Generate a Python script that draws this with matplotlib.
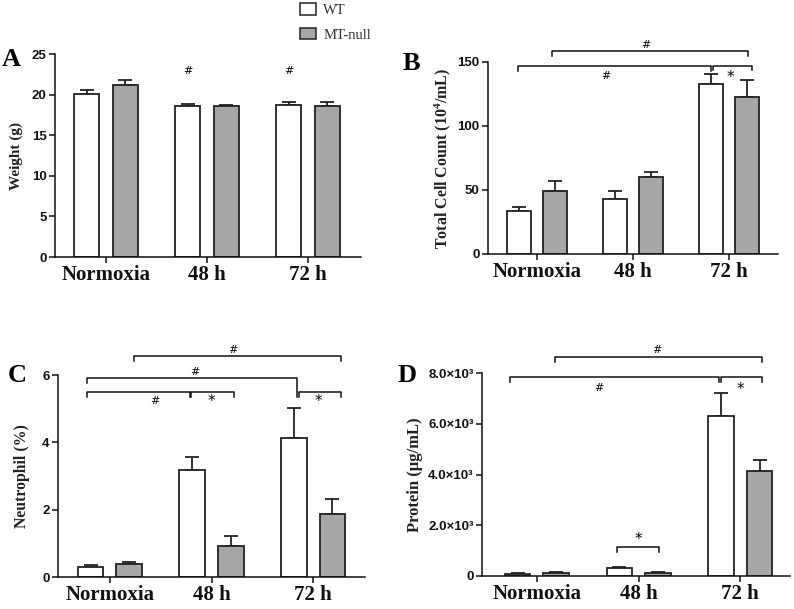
import matplotlib
matplotlib.use('Agg')
import matplotlib.pyplot as plt
from matplotlib.patches import Patch
import numpy as np

plt.rcParams['mathtext.fontset'] = 'custom'
plt.rcParams['mathtext.rm'] = 'Liberation Serif:bold'
plt.rcParams['mathtext.bf'] = 'Liberation Serif:bold'
plt.rcParams['mathtext.default'] = 'rm'

# ---------------- data ----------------
groups = ['Normoxia', '48 h', '72 h']
series = ['WT', 'MT-null']

weight_wt = [20.1, 18.65, 18.7]
weight_wt_err = [0.45, 0.25, 0.35]
weight_mt = [21.15, 18.55, 18.65]
weight_mt_err = [0.7, 0.2, 0.45]

cells_wt = [33.7, 43.1, 132.6]
cells_wt_err = [3.4, 6.5, 7.8]
cells_mt = [49.6, 60.0, 122.5]
cells_mt_err = [7.8, 3.8, 13.5]

neut_wt = [0.30, 3.19, 4.12]
neut_wt_err = [0.07, 0.36, 0.90]
neut_mt = [0.40, 0.91, 1.88]
neut_mt_err = [0.04, 0.32, 0.45]

prot_wt = [80, 330, 6310]
prot_wt_err = [20, 40, 900]
prot_mt = [120, 130, 4120]
prot_mt_err = [20, 40, 440]

# brackets: (x1, x2, y, left_leg, right_leg)  ; labels: (x, y, text)
a_labels = [(0.81, 22.9, '#'), (1.81, 22.9, '#')]

b_brackets = [(-0.2, 1.81, 146.6, 3.5, 3.5), (0.16, 2.2, 158.4, 3.5, 3.5),
              (1.83, 2.24, 146.9, 3.5, 3.5)]
b_labels = [(0.72, 139.2, '#'), (1.135, 163.0, '#'), (2.01, 138.0, '*')]

c_brackets = [(0.24, 2.27, 6.55, 0.13, 0.13), (-0.22, 1.84, 5.9, 0.13, 0.55),
              (-0.22, 0.79, 5.5, 0.14, 0.14), (0.80, 1.22, 5.5, 0.14, 0.14),
              (1.86, 2.27, 5.5, 0.14, 0.14)]
c_labels = [(1.21, 6.74, '#'), (0.84, 6.1, '#'), (0.44, 5.24, '#'),
            (1.0, 5.2, '*'), (2.05, 5.2, '*')]

d_brackets = [(0.18, 2.21, 8630, 180, 180), (-0.26, 1.79, 7840, 180, 200),
              (1.81, 2.21, 7840, 180, 180), (0.79, 1.20, 1150, 200, 200)]
d_labels = [(1.18, 8890, '#'), (0.61, 7400, '#'), (2.0, 7350, '*'), (1.0, 1420, '*')]

a_ticks = [0, 5, 10, 15, 20, 25]
b_ticks = [0, 50, 100, 150]
c_ticks = [0, 2, 4, 6]
d_ticks = [0, 2000, 4000, 6000, 8000]
d_ticklabels = ['0', '2.0\u00d710\u00b3', '4.0\u00d710\u00b3', '6.0\u00d710\u00b3', '8.0\u00d710\u00b3']

# ---------------- styling ----------------
W, H = 794, 609
fig = plt.figure(figsize=(W / 100, H / 100), dpi=100)
GREY = '#a6a6a6'
EDGE = '#222222'
SERIF = 'Liberation Serif'
SANS = 'Liberation Sans'


def make_axes(rect, wt, wte, mt, mte, ylim, ticks, ticklabels, ylabel, ylabel_fs, xlim,
              labx, brackets, labels, letter, letter_xy):
    ax = fig.add_axes(rect)
    x = np.arange(len(groups))
    off, bw = 0.19, 0.25
    for vals, errs, col, dx in ((wt, wte, 'white', -off), (mt, mte, GREY, off)):
        ax.bar(x + dx, vals, width=bw, color=col, edgecolor=EDGE, linewidth=1.3, zorder=2)
        ax.errorbar(x + dx, vals, yerr=[np.zeros(len(vals)), errs], fmt='none',
                    ecolor=EDGE, elinewidth=1.3, capsize=5, capthick=1.3, zorder=1)
    ax.set_xlim(*xlim)
    ax.set_ylim(*ylim)
    ax.set_yticks(ticks)
    ax.set_yticklabels(ticklabels if ticklabels else [str(t) for t in ticks],
                       fontfamily=SANS, fontweight='bold', fontsize=9.5)
    ax.set_xticks(x)
    ax.set_xticklabels(groups, fontfamily=SERIF, fontweight='bold', fontsize=15)
    for s in ('top', 'right'):
        ax.spines[s].set_visible(False)
    for s in ('left', 'bottom'):
        ax.spines[s].set_linewidth(1.1)
        ax.spines[s].set_color('#111111')
    ax.tick_params(axis='both', direction='out', width=1.1, length=4, colors='#111111')
    ax.tick_params(axis='x', pad=2)
    ax.tick_params(axis='y', pad=2)
    ax.set_ylabel(ylabel, fontfamily=SERIF, fontweight='bold', fontsize=ylabel_fs,
                  color='#222222')
    ax.yaxis.set_label_coords(labx, 0.5)
    for (x1, x2, y, l1, l2) in brackets:
        ax.plot([x1, x1, x2, x2], [y - l1, y, y, y - l2], color='#111111',
                lw=1.1, clip_on=False, zorder=3)
    for (tx, ty, t) in labels:
        fs = 8 if t == '#' else 11
        ax.text(tx, ty, t, ha='center', va='center', fontsize=fs,
                fontfamily='DejaVu Sans', clip_on=False)
    fig.text(letter_xy[0], letter_xy[1], letter, fontfamily=SERIF, fontweight='bold',
             fontsize=19, ha='left', va='center')
    return ax


def rect(l, r, t, b):
    return [l / W, 1 - b / H, (r - l) / W, (b - t) / H]


make_axes(rect(55, 361, 54, 257), weight_wt, weight_wt_err, weight_mt, weight_mt_err,
          (0, 25), a_ticks, None, 'Weight (g)', 11, (-0.505, 2.525), -0.105,
          [], a_labels, 'A', (2 / W, 1 - 60 / H))

make_axes(rect(488, 778, 62, 254), cells_wt, cells_wt_err, cells_mt, cells_mt_err,
          (0, 150), b_ticks, None, 'Total Cell Count (10$^4$/mL)', 11.5, (-0.51, 2.51), -0.12,
          b_brackets, b_labels, 'B', (403 / W, 1 - 63 / H))

make_axes(rect(58, 365, 375, 577), neut_wt, neut_wt_err, neut_mt, neut_mt_err,
          (0, 6), c_ticks, None, 'Neutrophil (%)', 11.3, (-0.51, 2.51), -0.092,
          c_brackets, c_labels, 'C', (8 / W, 1 - 375 / H))

make_axes(rect(482, 790, 373, 576), prot_wt, prot_wt_err, prot_mt, prot_mt_err,
          (0, 8000), d_ticks, d_ticklabels, 'Protein (\u03bcg/mL)', 12, (-0.54, 2.49), -0.19,
          d_brackets, d_labels, 'D', (398 / W, 1 - 375 / H))

handles = [Patch(facecolor='white', edgecolor=EDGE, linewidth=1.1),
           Patch(facecolor=GREY, edgecolor=EDGE, linewidth=1.1)]
fig.legend(handles, series, loc='upper left', bbox_to_anchor=(300 / W, 1 - 3 / H),
           frameon=False, prop={'family': SERIF, 'size': 10.5}, handlelength=1.1,
           handleheight=0.85, labelspacing=0.75, handletextpad=0.5, borderpad=0,
           borderaxespad=0, labelcolor='#333333')

fig.savefig('out.png', dpi=100, facecolor='white')
